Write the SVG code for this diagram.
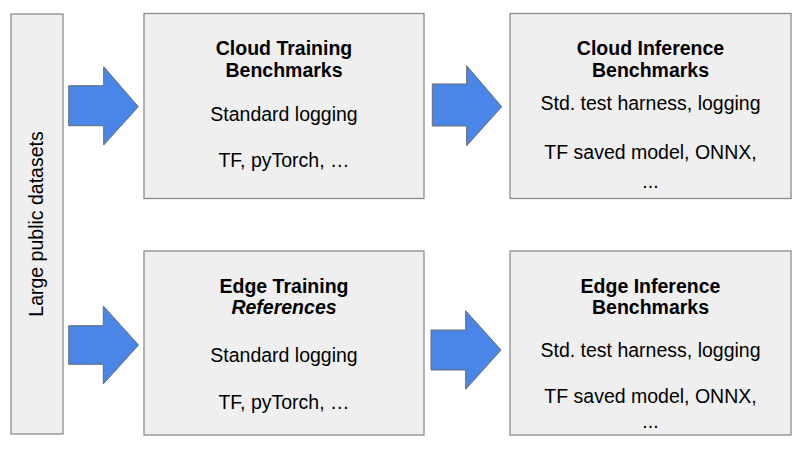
<svg xmlns="http://www.w3.org/2000/svg" width="804" height="455" viewBox="0 0 804 455">
  <style>
    .box { fill: #efefef; stroke: #8c8c8c; stroke-width: 1.3; }
    .arrow { fill: #4a86e8; stroke: #6b6b6b; stroke-width: 1; stroke-linejoin: miter; }
    text { font-family: "Liberation Sans", Arial, sans-serif; font-size: 19.5px; fill: #000; text-anchor: middle; }
    .title { font-weight: bold; }
    .ital { font-style: italic; }
  </style>
  <rect width="804" height="455" fill="#ffffff"/>

  <g id="datasets">
    <rect class="box" x="11" y="14" width="52" height="420"/>
    <text transform="translate(43,224) rotate(-90)">Large public datasets</text>
  </g>

  <g id="cloud-training">
    <rect class="box" x="144" y="13.5" width="280" height="185"/>
    <text class="title" x="284" y="55">Cloud Training</text>
    <text class="title" x="284" y="77.3">Benchmarks</text>
    <text x="284" y="121">Standard logging</text>
    <text x="284" y="166.5">TF, pyTorch, …</text>
  </g>

  <g id="cloud-inference">
    <rect class="box" x="510" y="13.5" width="281" height="185"/>
    <text class="title" x="650.5" y="54.5">Cloud Inference</text>
    <text class="title" x="650.5" y="77.3">Benchmarks</text>
    <text x="650.5" y="110">Std. test harness, logging</text>
    <text x="650.5" y="158.7">TF saved model, ONNX,</text>
    <text x="650.5" y="188">...</text>
  </g>

  <g id="edge-training">
    <rect class="box" x="144" y="251" width="280" height="184"/>
    <text class="title" x="284" y="293.3">Edge Training</text>
    <text class="title ital" x="284" y="314">References</text>
    <text x="284" y="362.3">Standard logging</text>
    <text x="284" y="409.3">TF, pyTorch, …</text>
  </g>

  <g id="edge-inference">
    <rect class="box" x="510" y="251" width="281" height="184"/>
    <text class="title" x="650.5" y="292.5">Edge Inference</text>
    <text class="title" x="650.5" y="314">Benchmarks</text>
    <text x="650.5" y="356.7">Std. test harness, logging</text>
    <text x="650.5" y="403.3">TF saved model, ONNX,</text>
    <text x="650.5" y="427.7">...</text>
  </g>

  <g id="connectors">
    <polygon class="arrow" points="68.7,85.7 103.7,85.7 103.7,66.7 138.3,106.7 103.7,145 103.7,125.7 68.7,125.7"/>
    <polygon class="arrow" points="68.7,325.7 103.3,325.7 103.3,306 138.5,345 103.3,384 103.3,364.3 68.7,364.3"/>
    <polygon class="arrow" points="432.3,84 466.7,84 466.7,65.7 501.7,106.7 466.7,145.7 466.7,126 432.3,126"/>
    <polygon class="arrow" points="431,330 465.7,330 465.7,310.7 501,350 465.7,389.3 465.7,370 431,370"/>
  </g>
</svg>
